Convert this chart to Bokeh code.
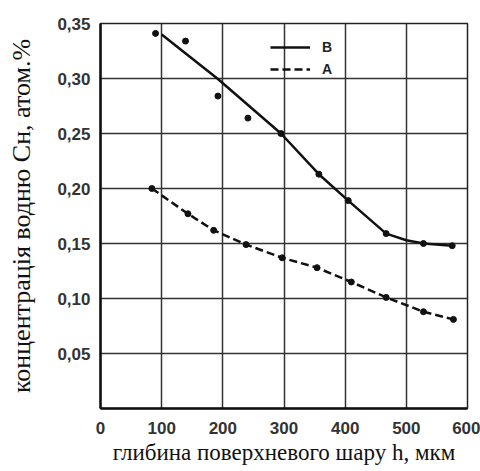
from bokeh.plotting import figure
from bokeh.models import (Range1d, FixedTicker, CustomJSTickFormatter, Legend,
                          LegendItem)
from bokeh.embed import file_html
from bokeh.resources import INLINE

# depth h, mkm and hydrogen concentration, atom.%
b_dots_x = [90, 139, 192, 241, 295, 357, 405, 467, 528, 575]
b_dots_y = [0.341, 0.334, 0.284, 0.264, 0.250, 0.213, 0.189, 0.159, 0.150, 0.148]
b_line_x = [100, 191, 295, 357, 405, 467, 500, 528, 575]
b_line_y = [0.340, 0.300, 0.250, 0.213, 0.189, 0.159, 0.153, 0.150, 0.148]
a_x = [84, 143, 185, 238, 297, 354, 410, 467, 528, 577]
a_y = [0.200, 0.177, 0.162, 0.149, 0.137, 0.128, 0.115, 0.101, 0.088, 0.081]

x_ticks = [0, 100, 200, 300, 400, 500, 600]
y_ticks = [0.05, 0.10, 0.15, 0.20, 0.25, 0.30, 0.35]

x_title = "глибина поверхневого шару h, мкм"
y_title = "концентрація водню Cн, атом.%"

p = figure(width=480, height=471, output_backend="svg", toolbar_location=None,
           x_range=Range1d(0, 600), y_range=Range1d(0, 0.35),
           min_border_left=100, min_border_right=13, min_border_top=23,
           min_border_bottom=63)
p.background_fill_color = "white"
p.border_fill_color = "white"
p.outline_line_color = "#222222"
p.outline_line_width = 1.5

# grid
p.xgrid.ticker = FixedTicker(ticks=x_ticks)
p.ygrid.ticker = FixedTicker(ticks=y_ticks)
for g in (p.xgrid, p.ygrid):
    g.grid_line_color = "#333333"
    g.grid_line_width = 1.5
    g.grid_line_alpha = 1.0

# axes
p.xaxis.ticker = FixedTicker(ticks=x_ticks)
p.yaxis.ticker = FixedTicker(ticks=y_ticks)
p.yaxis.formatter = CustomJSTickFormatter(code="return tick.toFixed(2).replace('.', ',');")
for ax in (p.xaxis, p.yaxis):
    ax.axis_line_color = "#111111"
    ax.axis_line_width = 2.5
    ax.major_tick_line_color = None
    ax.minor_tick_line_color = None
    ax.major_label_text_font = "Liberation Sans"
    ax.major_label_text_font_style = "bold"
    ax.major_label_text_font_size = "17px"
    ax.major_label_text_color = "#333333"
    ax.axis_label_text_font = "Liberation Serif"
    ax.axis_label_text_font_style = "normal"
    ax.axis_label_text_color = "#111111"
p.xaxis.axis_label_text_font_size = "23px"
p.yaxis.axis_label_text_font_size = "26px"
p.xaxis.axis_label = x_title
p.yaxis.axis_label = y_title
p.xaxis.major_label_standoff = 7
p.yaxis.major_label_standoff = 4
p.xaxis.axis_label_standoff = 3
p.yaxis.axis_label_standoff = 18

# curves
rb = p.line(b_line_x, b_line_y, line_color="#111111", line_width=2.5)
ra = p.line(a_x, a_y, line_color="#111111", line_width=2.5, line_dash="8 4")
p.scatter(b_dots_x, b_dots_y, size=6, fill_color="#111111", line_color="#111111")
p.scatter(a_x, a_y, size=6, fill_color="#111111", line_color="#111111")

legend = Legend(items=[LegendItem(label="B", renderers=[rb]),
                       LegendItem(label="A", renderers=[ra])],
                location=(170, 331), padding=0, margin=0, spacing=6,
                glyph_width=40, glyph_height=16, label_standoff=12,
                border_line_color=None, background_fill_alpha=0,
                label_text_font="Liberation Sans", label_text_font_style="bold",
                label_text_font_size="14px", label_text_color="#222222")
p.add_layout(legend)

open("out.html", "w").write(file_html(p, INLINE))
